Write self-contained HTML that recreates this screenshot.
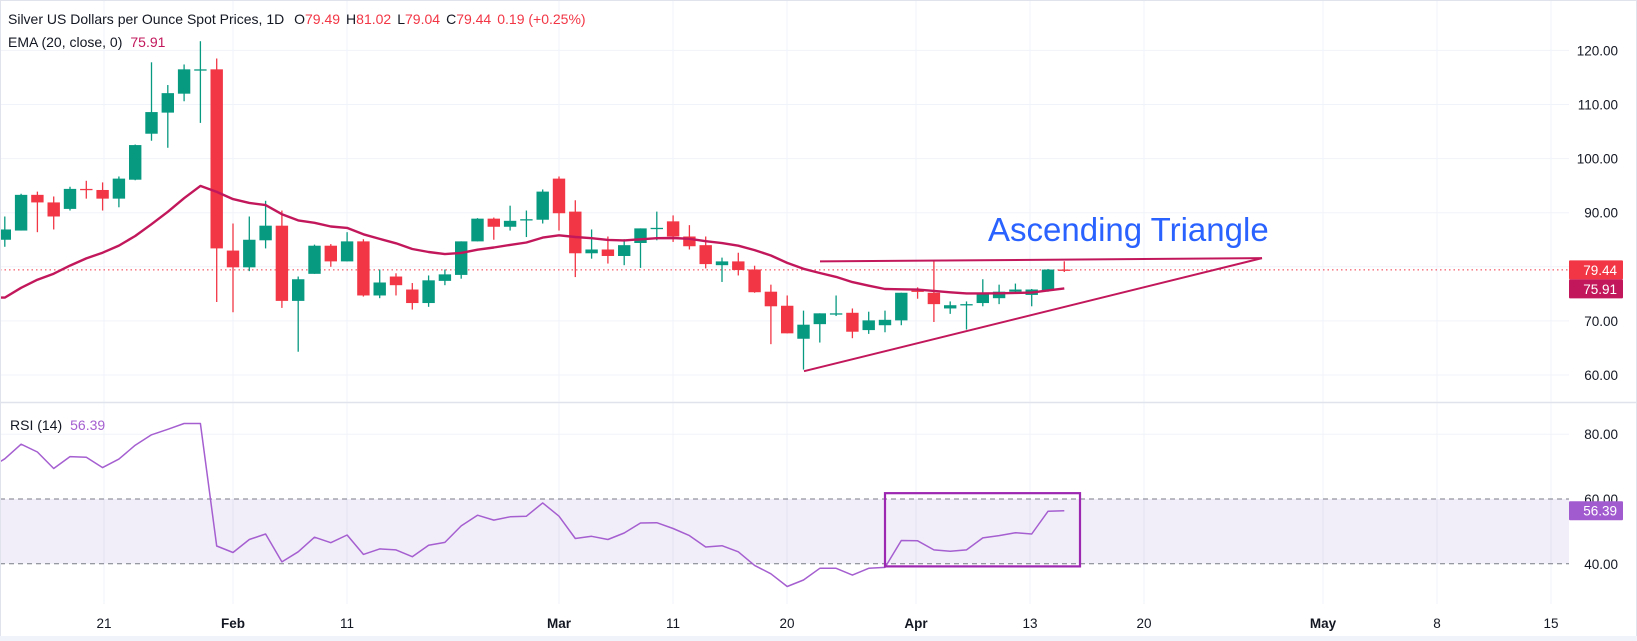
<!DOCTYPE html>
<html><head><meta charset="utf-8">
<style>
html,body{margin:0;padding:0;background:#fff;}
body{width:1637px;height:641px;overflow:hidden;font-family:"Liberation Sans",sans-serif;}
svg{display:block}
</style></head>
<body>
<svg id="c" width="1637" height="641" viewBox="0 0 1637 641" xmlns="http://www.w3.org/2000/svg" font-family="Liberation Sans, sans-serif"></svg>
<script>
const D=[[85.0,89.3,83.7,86.9],[86.7,93.5,86.7,93.3],[93.3,93.9,86.4,91.9],[91.9,93.0,86.9,89.3],[90.7,94.8,90.4,94.4],[94.4,95.9,92.6,94.3],[94.2,95.6,90.4,92.6],[92.6,96.7,91.0,96.3],[96.1,102.6,96.0,102.5],[104.6,117.8,103.3,108.6],[108.5,113.6,102.0,112.1],[112.0,117.4,110.6,116.5],[116.4,121.7,106.6,116.5],[116.5,118.5,73.5,83.4],[83.0,88.0,71.6,79.9],[79.9,89.3,79.2,85.0],[84.9,92.2,83.4,87.6],[87.6,90.4,72.4,73.7],[73.7,78.2,64.3,77.7],[78.7,84.1,78.7,83.9],[83.9,84.2,80.0,81.0],[81.0,86.4,81.0,84.7],[84.7,85.1,74.5,74.7],[74.7,79.5,74.2,77.1],[78.2,78.8,74.7,76.6],[75.8,77.0,72.1,73.3],[73.3,78.4,72.6,77.5],[77.4,79.5,76.6,78.6],[78.5,84.7,77.8,84.7],[84.7,89.0,84.7,88.9],[88.9,89.1,85.0,87.4],[87.4,91.3,86.7,88.5],[88.6,90.4,85.5,88.8],[88.7,94.3,88.0,93.9],[96.3,96.7,86.7,89.9],[90.2,92.3,78.1,82.5],[82.5,86.9,81.5,83.2],[83.2,85.6,80.6,82.0],[82.0,85.1,80.3,84.0],[84.4,87.1,79.8,87.1],[87.1,90.2,84.9,87.2],[88.4,89.5,84.6,85.6],[85.6,87.7,83.2,83.8],[84.0,85.6,79.7,80.5],[80.3,81.7,77.2,81.0],[81.0,82.6,78.4,79.4],[79.5,80.2,75.2,75.3],[75.4,76.7,65.7,72.7],[72.8,74.7,67.7,67.7],[66.7,71.9,61.0,69.3],[69.4,71.4,66.0,71.4],[71.3,74.7,70.9,71.4],[71.5,72.3,66.8,68.0],[68.3,71.7,67.6,70.1],[69.2,71.9,67.9,70.2],[70.1,75.2,69.2,75.2],[75.6,76.2,74.1,75.4],[75.2,81.0,69.8,73.1],[72.3,73.6,71.3,72.9],[73.0,73.6,68.4,73.1],[73.3,77.7,72.7,75.1],[74.2,76.7,73.1,75.4],[75.4,76.9,75.0,75.8],[74.8,75.9,72.7,75.8],[75.6,79.6,75.4,79.49],[79.49,81.02,79.04,79.44]];
const R=[72.4,76.9,74.5,69.4,73.1,72.9,69.7,72.3,76.6,79.8,81.5,83.3,83.3,45.5,43.5,47.5,49.2,40.6,43.7,48.2,46.5,48.9,42.9,44.6,44.3,42.2,45.7,46.6,51.7,55.0,53.5,54.5,54.7,58.8,54.7,47.8,48.5,47.5,49.5,52.6,52.7,50.9,48.7,45.2,45.6,43.7,39.5,36.9,33.0,35.0,38.6,38.6,36.5,38.6,38.9,47.2,47.1,44.3,43.9,44.3,48.0,48.7,49.6,49.2,56.2,56.39];
const X=i=>233+(i-15)*16.3; // i 1-based
const Y=p=>50.4+(120-p)*5.41;
const RY=r=>499+(60-r)*3.24;
const G='#089981',RD='#f23645';
let s='';
const PR=1569;
// grids
[104,233,347,559,673,787,916,1030,1144,1323,1437,1551].forEach(x=>{s+=`<line x1="${x}" y1="0" x2="${x}" y2="604" stroke="#f0f3fa" stroke-width="1"/>`;});
[120,110,100,90,80,70,60].forEach(p=>{s+=`<line x1="0" y1="${Y(p)}" x2="${PR}" y2="${Y(p)}" stroke="#f0f3fa"/>`;});
s+=`<line x1="0" y1="${RY(80)}" x2="${PR}" y2="${RY(80)}" stroke="#f0f3fa"/>`;
// separator
s+=`<line x1="0" y1="402.5" x2="1637" y2="402.5" stroke="#e0e3eb" stroke-width="1.5"/>`;
// rsi band
s+=`<rect x="0" y="${RY(60)}" width="${PR}" height="${RY(40)-RY(60)}" fill="#7e57c2" fill-opacity="0.1"/>`;
s+=`<line x1="0" y1="${RY(60)}" x2="${PR}" y2="${RY(60)}" stroke="#787b86" stroke-dasharray="5,4"/>`;
s+=`<line x1="0" y1="${RY(40)}" x2="${PR}" y2="${RY(40)}" stroke="#787b86" stroke-dasharray="5,4"/>`;
// dotted price line
s+=`<line x1="0" y1="${Y(79.44)}" x2="${PR}" y2="${Y(79.44)}" stroke="${RD}" stroke-dasharray="1.5,3"/>`;
// candles
D.forEach((d,k)=>{const i=k+1,x=X(i);const [o,h,l,c]=d;const col=c>=o?G:RD;
 s+=`<line x1="${x}" y1="${Y(h)}" x2="${x}" y2="${Y(l)}" stroke="${col}" stroke-width="1.3"/>`;
 const t=Y(Math.max(o,c)),b=Y(Math.min(o,c));
 s+=`<rect x="${x-6.2}" y="${t}" width="12.4" height="${Math.max(1.3,b-t)}" fill="${col}"/>`;});
// EMA
let e=74.3,pts=[];
D.forEach((d,k)=>{if(k>0)e=e+(d[3]-e)*2/21;pts.push(X(k+1).toFixed(1)+','+Y(e).toFixed(1));});
pts[0]='0,'+Y(74.3).toFixed(1)+' '+pts[0];
s+=`<polyline points="${pts.join(' ')}" fill="none" stroke="#c2185b" stroke-width="2.4" stroke-linejoin="round"/>`;
// triangle
s+=`<line x1="820" y1="${Y(81.0)}" x2="1262" y2="${Y(81.6)}" stroke="#c2185b" stroke-width="2"/>`;
s+=`<line x1="804" y1="${Y(60.7)}" x2="1262" y2="${Y(81.6)}" stroke="#c2185b" stroke-width="2"/>`;
s+=`<text x="988" y="241" font-size="33" fill="#2962ff">Ascending Triangle</text>`;
// RSI
let rp=R.map((r,k)=>X(k+1).toFixed(1)+','+RY(r).toFixed(1));
rp[0]='0,'+RY(71.5).toFixed(1)+' '+rp[0];
s+=`<polyline points="${rp.join(' ')}" fill="none" stroke="#a55fd0" stroke-width="1.5" stroke-linejoin="round"/>`;
s+=`<rect x="885" y="${RY(61.8)}" width="195" height="${RY(39.2)-RY(61.8)}" fill="none" stroke="#9c27b0" stroke-width="2.2"/>`;
// price axis labels
const lab=(t,y)=>{s+=`<text x="1618" y="${y+5}" font-size="13.5" fill="#131722" text-anchor="end">${t}</text>`;};
[120,110,100,90,70,60].forEach(p=>lab(p.toFixed(2),Y(p)));
lab('80.00',RY(80));lab('60.00',RY(60));lab('40.00',RY(40));
const box=(t,y,bg)=>{s+=`<rect x="1569" y="${y-9.5}" width="54" height="19" rx="1" fill="${bg}"/><text x="1617" y="${y+5}" font-size="13.5" fill="#fff" text-anchor="end">${t}</text>`;};
box('79.44',Y(79.44),RD);box('75.91',Y(79.44)+19,'#c2185b');box('56.39',RY(56.39),'#a25bcf');
// time axis
const tl=[[104,'21',0],[233,'Feb',1],[347,'11',0],[559,'Mar',1],[673,'11',0],[787,'20',0],[916,'Apr',1],[1030,'13',0],[1144,'20',0],[1323,'May',1],[1437,'8',0],[1551,'15',0]];
tl.forEach(([x,t,b])=>{s+=`<text x="${x}" y="628" font-size="13.5" fill="#131722" text-anchor="middle" ${b?'font-weight="bold"':''}>${t}</text>`;});
// legend
s+=`<text x="8" y="24" font-size="14" fill="#131722">Silver US Dollars per Ounce Spot Prices, 1D <tspan dx="6" fill="#131722">O</tspan><tspan fill="${RD}">79.49</tspan><tspan dx="6">H</tspan><tspan fill="${RD}">81.02</tspan><tspan dx="6">L</tspan><tspan fill="${RD}">79.04</tspan><tspan dx="6">C</tspan><tspan fill="${RD}">79.44</tspan><tspan dx="6" fill="${RD}">0.19 (+0.25%)</tspan></text>`;
s+=`<text x="8" y="47" font-size="14" fill="#131722">EMA (20, close, 0)<tspan dx="8" fill="#c2185b">75.91</tspan></text>`;
s+=`<text x="10" y="430" font-size="14" fill="#131722">RSI (14)<tspan dx="8" fill="#a55fd0">56.39</tspan></text>`;
// frame
s+=`<rect x="0.5" y="0.5" width="1636" height="640" fill="none" stroke="#e0e3eb"/>`;
s+=`<rect x="0" y="636" width="1637" height="5" fill="#f0f3fa"/>`;
document.getElementById('c').innerHTML=s;
</script>
</body></html>
